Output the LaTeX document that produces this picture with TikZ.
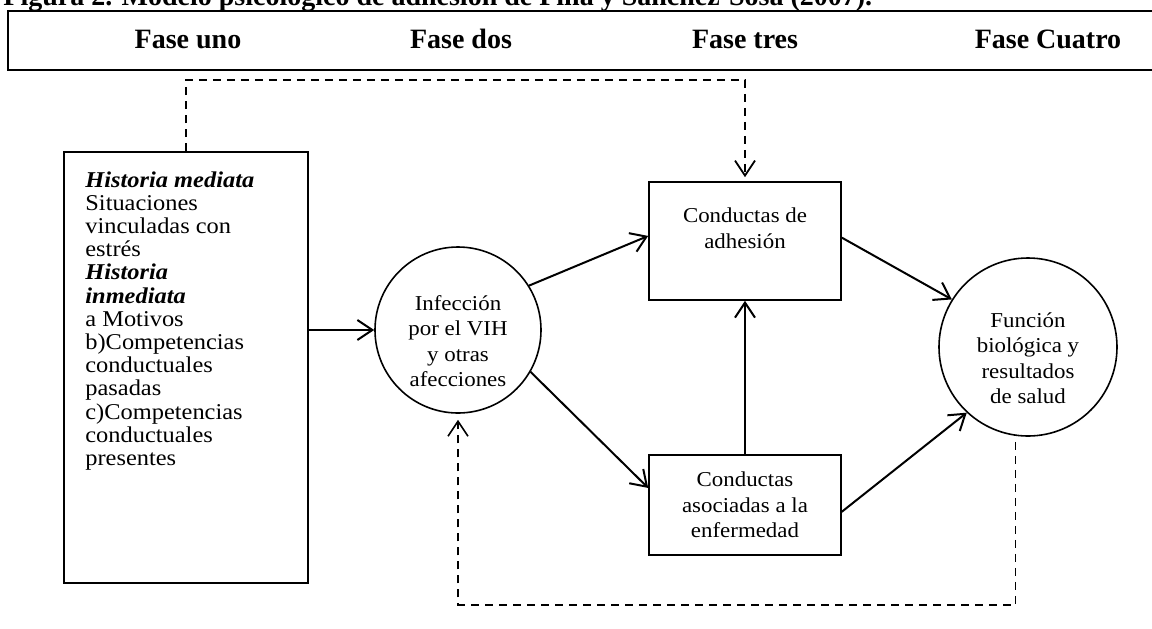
\documentclass[tikz,border=0pt]{standalone}
\usepackage{fontspec}
\setmainfont{Liberation Serif}
\newfontfamily\cuerpo[FakeStretch=1.08]{Liberation Serif}
\usetikzlibrary{arrows.meta}
\tikzset{
  flecha/.style={line width=1pt,-{Straight Barb[length=7.5pt,width=10pt]}},
  punteada/.style={dash pattern=on 4pt off 3pt},
  caja/.style={draw,line width=0.8pt,align=center,minimum width=96pt,font=\cuerpo\fontsize{10.6}{12.75}\selectfont},
  circulo/.style={draw,circle,line width=0.8pt,inner sep=0pt},
  circtxt/.style={align=center,inner sep=0pt,font=\cuerpo\fontsize{10.6}{12.75}\selectfont},
  fasetxt/.style={anchor=base,font=\bfseries\fontsize{14}{16}\selectfont}
}

\begin{document}
\begin{tikzpicture}[x=0.5pt,y=-0.5pt]
\useasboundingbox (0,0) rectangle (1152,628);

\def \FaseY {48};

% titulo y fases
\node[anchor=base west,inner sep=0pt,font=\bfseries\fontsize{14}{16}\selectfont] (titulo) at (3,5) {Figura 2. Modelo psicológico de adhesión de Piña y Sánchez-Sosa (2007).};
\draw[line width=1pt] (1160,11) -- (8,11) -- (8,70) -- (1160,70);
\foreach \x/\t [count=\i] in {188/Fase uno,461/Fase dos,745/Fase tres,1048/Fase Cuatro}
  \node[fasetxt] (fase\i) at (\x,\FaseY) {\t};

% nodos
\node[draw,line width=0.8pt,anchor=north west,minimum width=122pt,minimum height=215.5pt,inner sep=0pt] (hist) at (63,151) {};
\node[anchor=north west,align=left,inner sep=0pt,font=\cuerpo\fontsize{11.3}{11.6}\selectfont] (hist-txt) at ([shift={(22,20)}]hist.north west) {\textbf{\textit{Historia mediata}}\\Situaciones\\vinculadas con\\estrés\\\textbf{\textit{Historia}}\\\textbf{\textit{inmediata}}\\a Motivos\\b)Competencias\\conductuales\\pasadas\\c)Competencias\\conductuales\\presentes};

\node[circulo,minimum size=83pt] (infeccion) at (458,330) {};
\node[circtxt,yshift=-5.5pt] (infeccion-txt) at (infeccion) {Infección\\por el VIH\\y otras\\afecciones};
\node[circulo,minimum size=89pt] (funcion) at (1028,347) {};
\node[circtxt,yshift=-5.5pt] (funcion-txt) at (funcion) {Función\\biológica y\\resultados\\de salud};

\node[caja,minimum height=59pt] (adhesion) at (745,241) {Conductas de\\adhesión\\\mbox{}};
\node[caja,minimum height=50pt] (asociadas) at (745,505) {Conductas\\asociadas a la\\enfermedad};

% flechas
\draw[flecha] (infeccion.west -| hist.east) -- (infeccion.west);
\draw[flecha] (infeccion.32) -- (adhesion.177);
\draw[flecha] (infeccion.-30) -- (asociadas.170);
\draw[flecha] (asociadas.north) -- (adhesion.south);
\draw[flecha] (adhesion.2) -- (funcion.148);
\draw[flecha] (asociadas.-4) -- (funcion.227);

% retroalimentacion
\draw[flecha,punteada,line width=0.9pt,shorten >=2pt] (hist.north) -- ++(0,-71) -| (adhesion.north);
\draw[flecha,punteada,line width=0.8pt,shorten <=3pt,shorten >=3pt] (funcion.262) -- ++(0,169) -| (infeccion.south);

\end{tikzpicture}
\end{document}
